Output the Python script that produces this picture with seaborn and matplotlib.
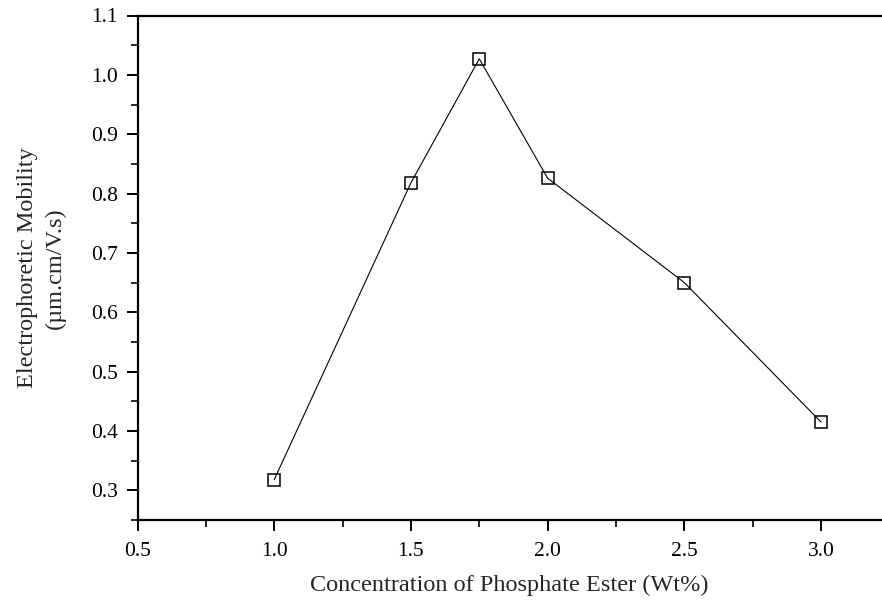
import matplotlib
matplotlib.use("Agg")
import matplotlib.pyplot as plt
from matplotlib.ticker import MultipleLocator
import seaborn as sns
import pandas as pd

# Electrophoretic mobility vs. phosphate ester concentration
concentration = [1.0, 1.5, 1.75, 2.0, 2.5, 3.0]
mobility = [0.318, 0.818, 1.027, 0.826, 0.650, 0.415]

df = pd.DataFrame({"conc": concentration, "mob": mobility})

sns.set_style("ticks")
plt.rcParams["font.family"] = ["Liberation Serif", "DejaVu Serif"]

fig = plt.figure(figsize=(8.82, 6.04), dpi=100)
ax = fig.add_axes([137.5 / 882, 1 - 520 / 604, 1 - 137.5 / 882, (520 - 15.5) / 604])

sns.lineplot(data=df, x="conc", y="mob", ax=ax, color="black", linewidth=0.8,
             marker="s", markersize=8.5, markerfacecolor="none",
             markeredgecolor="black", markeredgewidth=1.1)

ax.set_xlim(0.5, 3.223)
ax.set_ylim(0.25, 1.1)
ax.xaxis.set_major_locator(MultipleLocator(0.5))
ax.xaxis.set_minor_locator(MultipleLocator(0.25))
ax.yaxis.set_major_locator(MultipleLocator(0.1))
ax.yaxis.set_minor_locator(MultipleLocator(0.05))
ax.xaxis.set_major_formatter(plt.FormatStrFormatter("%.1f"))
ax.yaxis.set_major_formatter(plt.FormatStrFormatter("%.1f"))

for s in ["left", "bottom", "top"]:
    ax.spines[s].set_linewidth(1.6)
    ax.spines[s].set_color("black")
ax.spines["right"].set_visible(False)

ax.tick_params(which="major", direction="out", length=8, width=1.4,
               labelsize=15.5, colors="black")
ax.tick_params(axis="y", which="major", pad=6)
ax.tick_params(axis="x", which="major", pad=8)
ax.tick_params(which="minor", direction="out", length=5, width=1.4)
ax.tick_params(top=False, right=False, which="both")

ax.set_xlabel("Concentration of Phosphate Ester (Wt%)", fontsize=17.5, labelpad=10)
ax.set_ylabel("Electrophoretic Mobility\n(\u00b5m.cm/V.s)", fontsize=17.5,
              labelpad=18, linespacing=1.45)

fig.savefig("out.png", dpi=100)
